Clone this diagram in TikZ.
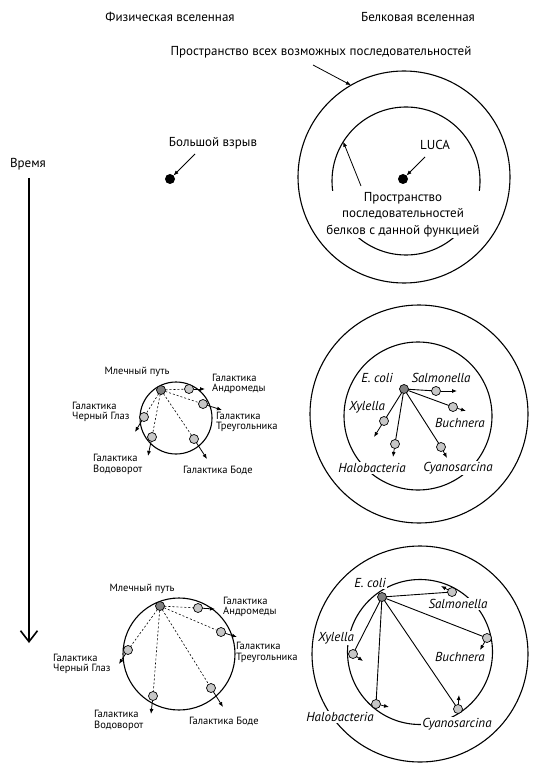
\documentclass[tikz,border=0pt]{standalone}
\usepackage{fontspec}
\setmainfont{PT Sans}
\usetikzlibrary{arrows.meta}
\begin{document}
\begin{tikzpicture}[x=1pt,y=-1pt,
  ring/.style={circle,draw,line width=1.1pt,inner sep=0pt,outer sep=0pt},
  dot/.style={circle,draw,line width=0.7pt,fill=black!22,minimum size=9pt,inner sep=0pt,outer sep=0pt},
  hub/.style={dot,fill=black!50},
  bigdot/.style={circle,fill=black,minimum size=10pt,inner sep=0pt,outer sep=0pt},
  lbl/.style={font=\fontsize{13}{16.5}\selectfont,inner sep=1pt},
  gal/.style={font=\fontsize{10.5}{10.3}\selectfont,align=left,anchor=west,inner sep=0pt},
  sp/.style={font=\fontsize{13}{14}\selectfont\itshape,fill=white,inner sep=1pt},
  ptr/.style={-{Latex[length=5pt,width=4pt]},line width=0.8pt},
  dashlink/.style={line width=0.6pt,dash pattern=on 2pt off 2pt},
  link/.style={line width=0.9pt}
]
\fill[white] (0,0) rectangle (543,775);
\useasboundingbox (0,0) rectangle (543,775);

% headings
\node[lbl] (hphys) at (170,17) {Физическая вселенная};
\node[lbl] (hprot) at (418,17) {Белковая вселенная};
\node[lbl] (hall) at (321,52) {Пространство всех возможных последовательностей};

% time arrow
\node[lbl] (time) at (28,164) {Время};
\coordinate (ttop) at (29,178);
\coordinate (tbot) at (29,643);
\draw[line width=2.6pt,-{Straight Barb[length=11pt,width=17pt,line width=1.6pt]}] (ttop) -- (tbot);

% ===== top row =====
\node[ring,minimum size=212pt] (outer1) at (404,177) {};
\node[ring,minimum size=148pt] (inner1) at (406,181) {};
\coordinate (hallA) at (313,65);
\draw[ptr] (hallA) -- (outer1.120);

\node[bigdot] (bb) at (170,179) {};
\node[lbl] (bbl) at (213,143) {Большой взрыв};
\coordinate (bbA) at (195,154);
\draw[ptr] (bbA) -- (bb);

\node[bigdot] (luca) at (403,179) {};
\node[lbl] (lucal) at (435,145) {LUCA};
\coordinate (lucaA) at (425,157);
\draw[ptr] (lucaA) -- (luca);

\node[lbl,fill=white,align=center] (func) at (403,214.5) {Пространство\\последовательностей\\белков с данной функцией};
\coordinate (funcA) at (361,186);
\draw[ptr] (funcA) -- (inner1.148);

% ===== middle row, galaxies =====
\node[ring,minimum size=72pt] (g2) at (176,418) {};
\node[hub] (mw2) at (161,390) {};
\node[dot] (an2) at (189,389) {};
\node[dot] (tr2) at (203,404) {};
\node[dot] (be2) at (144,417) {};
\node[dot] (wp2) at (152,437) {};
\node[dot] (bo2) at (194,439) {};
\foreach \g in {an2,tr2,be2,wp2,bo2} \draw[dashlink] (mw2) -- (\g);
\coordinate (an2A) at (205,389);
\coordinate (tr2A) at (222,410);
\coordinate (be2A) at (135,432);
\coordinate (wp2A) at (148,456);
\coordinate (bo2A) at (207,459);
\draw[ptr] (an2) -- (an2A);
\draw[ptr] (tr2) -- (tr2A);
\draw[ptr] (be2) -- (be2A);
\draw[ptr] (wp2) -- (wp2A);
\draw[ptr] (bo2) -- (bo2A);
\node[gal,anchor=center] (mw2l) at (137,372) {Млечный путь};
\node[gal] (an2l) at (212,384) {Галактика\\Андромеды};
\node[gal] (tr2l) at (216,422) {Галактика\\Треугольника};
\node[gal] (be2l) at (72,412) {Галактика\\Черный Глаз};
\node[gal] (wp2l) at (93,464.5) {Галактика\\Водоворот};
\node[gal] (bo2l) at (183,470) {Галактика Боде};

% ===== middle row, proteins =====
\node[ring,minimum size=218pt] (outer2) at (419,414) {};
\node[ring,minimum size=148pt] (inner2) at (418,416) {};
\node[hub] (ec2) at (404,389) {};
\node[dot] (sa2) at (436,391) {};
\node[dot] (bu2) at (453,407) {};
\node[dot] (xy2) at (384,421) {};
\node[dot] (ha2) at (395,444) {};
\node[dot] (cy2) at (441,447) {};
\foreach \s in {sa2,bu2,xy2,ha2,cy2} \draw[link] (ec2) -- (\s);
\coordinate (sa2A) at (457,391);
\coordinate (bu2A) at (466,411);
\coordinate (xy2A) at (374,437);
\coordinate (ha2A) at (393,457);
\coordinate (cy2A) at (447,458);
\draw[ptr] (sa2) -- (sa2A);
\draw[ptr] (bu2) -- (bu2A);
\draw[ptr] (xy2) -- (xy2A);
\draw[ptr] (ha2) -- (ha2A);
\draw[ptr] (cy2) -- (cy2A);
\node[sp] (ec2l) at (377,378) {E. coli};
\node[sp] (sa2l) at (441,378) {Salmonella};
\node[sp] (bu2l) at (460,423) {Buchnera};
\node[sp] (xy2l) at (367,407) {Xylella};
\node[sp] (ha2l) at (372,468) {Halobacteria};
\node[sp] (cy2l) at (458,468) {Cyanosarcina};

% ===== bottom row, galaxies =====
\node[ring,minimum size=112pt] (g3) at (179,654) {};
\node[hub] (mw3) at (160,606) {};
\node[dot] (an3) at (198,608) {};
\node[dot] (tr3) at (221,632) {};
\node[dot] (be3) at (128,650) {};
\node[dot] (wp3) at (153,696) {};
\node[dot] (bo3) at (211,688) {};
\foreach \g in {an3,tr3,be3,wp3,bo3} \draw[dashlink] (mw3) -- (\g);
\coordinate (an3A) at (215,609);
\coordinate (tr3A) at (237,637);
\coordinate (be3A) at (119,664);
\coordinate (wp3A) at (151,714);
\coordinate (bo3A) at (223,707);
\draw[ptr] (an3) -- (an3A);
\draw[ptr] (tr3) -- (tr3A);
\draw[ptr] (be3) -- (be3A);
\draw[ptr] (wp3) -- (wp3A);
\draw[ptr] (bo3) -- (bo3A);
\node[gal,anchor=center] (mw3l) at (142,589) {Млечный путь};
\node[gal] (an3l) at (223,607) {Галактика\\Андромеды};
\node[gal] (tr3l) at (236,652.5) {Галактика\\Треугольника};
\node[gal] (be3l) at (53,664) {Галактика\\Черный Глаз};
\node[gal] (wp3l) at (94,720.5) {Галактика\\Водоворот};
\node[gal] (bo3l) at (189,721) {Галактика Боде};

% ===== bottom row, proteins =====
\node[ring,minimum size=216pt] (outer3) at (420,654) {};
\node[ring,minimum size=145pt] (inner3) at (420,652) {};
\node[hub] (ec3) at (382,597) {};
\node[dot] (sa3) at (452,592) {};
\node[dot] (bu3) at (487,638) {};
\node[dot] (xy3) at (353,654) {};
\node[dot] (ha3) at (376,704) {};
\node[dot] (cy3) at (458,709) {};
\foreach \s in {sa3,bu3,xy3,ha3,cy3} \draw[link] (ec3) -- (\s);
\coordinate (sa3A) at (441,586);
\coordinate (bu3A) at (480,650);
\coordinate (xy3A) at (363,661);
\coordinate (ha3A) at (389,707);
\coordinate (cy3A) at (459,695);
\draw[ptr] (sa3) -- (sa3A);
\draw[ptr] (bu3) -- (bu3A);
\draw[ptr] (xy3) -- (xy3A);
\draw[ptr] (ha3) -- (ha3A);
\draw[ptr] (cy3) -- (cy3A);
\node[sp] (ec3l) at (370,583) {E. coli};
\node[sp] (sa3l) at (458,604) {Salmonella};
\node[sp] (bu3l) at (460,657) {Buchnera};
\node[sp] (xy3l) at (336,638) {Xylella};
\node[sp] (ha3l) at (340,717) {Halobacteria};
\node[sp] (cy3l) at (457,724) {Cyanosarcina};
\end{tikzpicture}
\end{document}
